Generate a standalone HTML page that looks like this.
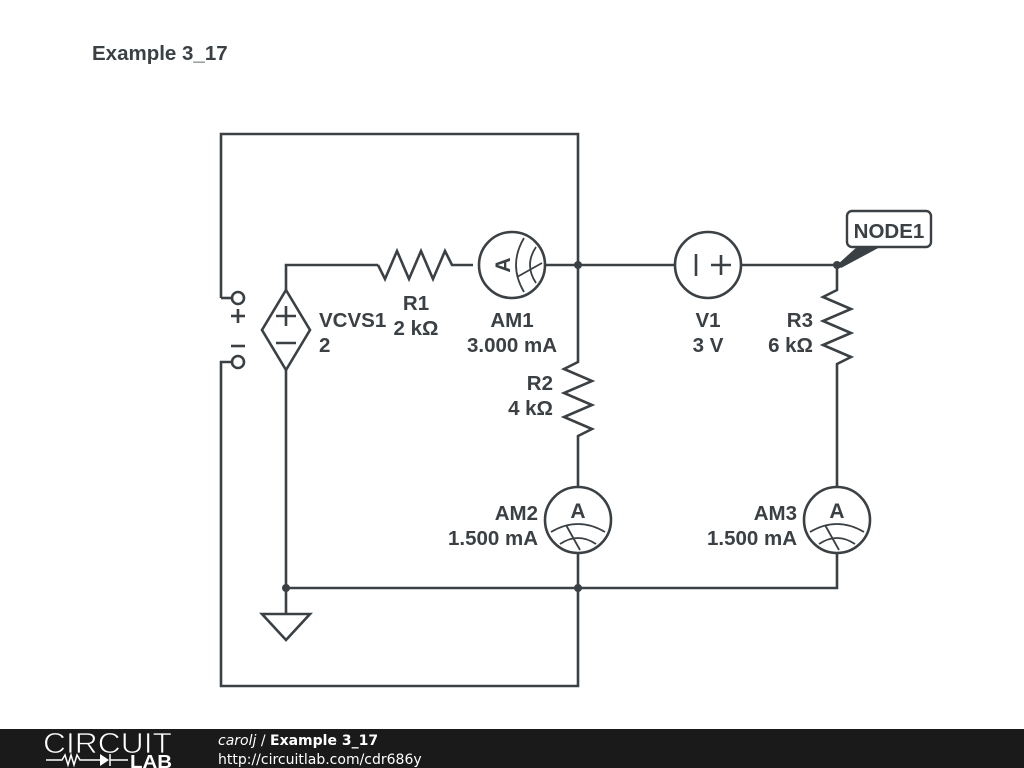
<!DOCTYPE html>
<html><head><meta charset="utf-8"><style>
body{margin:0;background:#fff;width:1024px;height:768px;overflow:hidden;position:relative;font-family:"Liberation Sans",sans-serif}
svg{position:absolute;left:0;top:0}
</style></head><body>
<svg width="1024" height="768" viewBox="0 0 1024 768">
<g fill="none" stroke="#3a4044" stroke-width="2.6" stroke-linejoin="miter">
<polyline points="221,298 221,134 578,134 578,265"/>
<line x1="221" y1="298" x2="232" y2="298"/>
<polyline points="232,362 221,362 221,686 578,686 578,588"/>
<circle cx="238" cy="298" r="6" fill="#fff"/>
<circle cx="238" cy="362" r="6" fill="#fff"/>
<line x1="231" y1="316" x2="245" y2="316"/><line x1="238" y1="309" x2="238" y2="323"/>
<line x1="231" y1="346" x2="245" y2="346"/>
<polygon points="286,290 310,330 286,370 262,330" fill="#fff"/>
<line x1="276" y1="316" x2="296" y2="316"/><line x1="286" y1="306" x2="286" y2="326"/>
<line x1="276" y1="343" x2="296" y2="343"/>
<polyline points="286,290 286,265 378,265"/>
<polyline points="378,265 385,279 397,251 409,279 421,251 433,279 445,251 452,265 473,265"/>
<circle cx="512" cy="265" r="33" fill="#fff"/>
<line x1="545" y1="265" x2="578" y2="265"/>
<line x1="578" y1="265" x2="675" y2="265"/>
<circle cx="708" cy="265" r="33" fill="#fff"/>
<line x1="696" y1="254" x2="696" y2="276"/>
<line x1="711" y1="265" x2="731" y2="265"/><line x1="721" y1="255" x2="721" y2="275"/>
<line x1="741" y1="265" x2="837" y2="265"/>
<polyline points="837,265 837,290 823,297 851,309 823,321 851,333 823,345 851,357 837,364 837,487"/>
<circle cx="837" cy="520" r="33" fill="#fff"/>
<polyline points="837,553 837,588 286,588"/>
<polyline points="578,265 578,362 564,369 592,381 564,393 592,405 564,417 592,429 578,436 578,487"/>
<circle cx="578" cy="520" r="33" fill="#fff"/>
<line x1="578" y1="553" x2="578" y2="588"/>
<line x1="286" y1="370" x2="286" y2="614"/>
<polygon points="262,614 310,614 286,640"/>
</g>
<g fill="none" stroke="#3a4044" stroke-width="1.8">
<g transform="translate(578,520)">
<path d="M-27,12 Q0,-4 27,12"/><path d="M-18,24 Q0,12 18,24"/><line x1="-12" y1="5" x2="2" y2="30"/>
</g>
<g transform="translate(837,520)">
<path d="M-27,12 Q0,-4 27,12"/><path d="M-18,24 Q0,12 18,24"/><line x1="-12" y1="5" x2="2" y2="30"/>
</g>
<g transform="translate(512,265) rotate(-90)">
<path d="M-27,12 Q0,-4 27,12"/><path d="M-18,24 Q0,12 18,24"/><line x1="-12" y1="5" x2="2" y2="30"/>
</g>
</g>
<g fill="#3a4044" font-family="Liberation Sans,sans-serif" font-weight="bold" font-size="21">
<text x="578" y="518" text-anchor="middle">A</text>
<text x="837" y="518" text-anchor="middle">A</text>
<text transform="translate(512,265) rotate(-90)" text-anchor="middle" y="-2">A</text>
</g>
<g fill="#3a4044">
<circle cx="578" cy="265" r="4"/><circle cx="837" cy="265" r="4"/>
<circle cx="578" cy="588" r="4"/><circle cx="286" cy="588" r="4"/>
<polygon points="837,265 858,246 882,246 841,268"/>
</g>
<rect x="847" y="211" width="84" height="36" rx="5" fill="#fff" stroke="#3a4044" stroke-width="2.4"/>
<g fill="#3a4044" font-family="Liberation Sans,sans-serif" font-weight="bold" font-size="20.5">
<text x="889" y="238" text-anchor="middle">NODE1</text>
<text x="92" y="60">Example 3_17</text>
<text x="319" y="327">VCVS1</text><text x="319" y="352">2</text>
<text x="416" y="310" text-anchor="middle">R1</text><text x="416" y="335" text-anchor="middle">2 kΩ</text>
<text x="512" y="327" text-anchor="middle">AM1</text><text x="512" y="352" text-anchor="middle">3.000 mA</text>
<text x="708" y="327" text-anchor="middle">V1</text><text x="708" y="352" text-anchor="middle">3 V</text>
<text x="813" y="327" text-anchor="end">R3</text><text x="813" y="352" text-anchor="end">6 kΩ</text>
<text x="553" y="390" text-anchor="end">R2</text><text x="553" y="415" text-anchor="end">4 kΩ</text>
<text x="538" y="520" text-anchor="end">AM2</text><text x="538" y="545" text-anchor="end">1.500 mA</text>
<text x="797" y="520" text-anchor="end">AM3</text><text x="797" y="545" text-anchor="end">1.500 mA</text>
</g>
<rect x="0" y="729" width="1024" height="39" fill="#1a1a1a"/>
<text x="43" y="753" fill="#fff" font-family="Liberation Sans,sans-serif" font-size="29" textLength="129" lengthAdjust="spacingAndGlyphs" stroke="#1a1a1a" stroke-width="0.8">CIRCUIT</text>
<g stroke="#fff" stroke-width="1.5" fill="none">
<polyline points="46,760 62,760 65,755 68,765 71,755 74,765 77,755 80,760 100,760"/>
<line x1="110" y1="754" x2="110" y2="766"/><line x1="110" y1="760" x2="128" y2="760"/>
</g>
<polygon points="100,754 100,766 109,760" fill="#fff"/>
<text x="130" y="768" fill="#fff" font-family="Liberation Sans,sans-serif" font-size="18" font-weight="bold" textLength="42" lengthAdjust="spacingAndGlyphs">LAB</text>
<text x="218" y="745" fill="#fff" font-family="DejaVu Sans,sans-serif" font-size="14"><tspan font-style="italic">carolj</tspan> / <tspan font-weight="bold">Example 3_17</tspan></text>
<text x="218" y="764" fill="#fff" font-family="DejaVu Sans,sans-serif" font-size="14">http://circuitlab.com/cdr686y</text>
</svg>
</body></html>
